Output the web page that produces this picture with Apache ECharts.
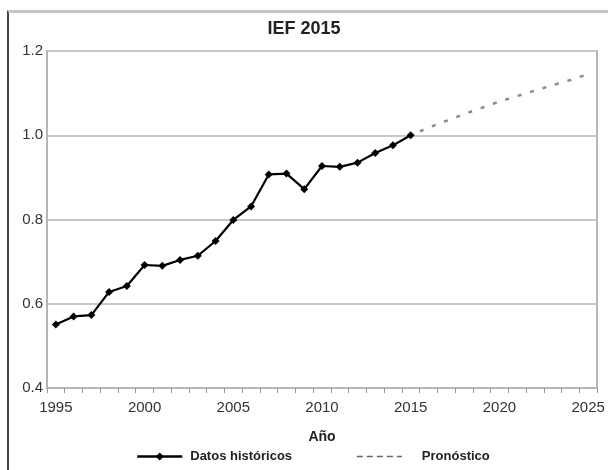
<!DOCTYPE html>
<html>
<head>
<meta charset="utf-8">
<script src="https://cdn.jsdelivr.net/npm/echarts@6/dist/echarts.min.js"></script>
<style>
  html, body { margin: 0; padding: 0; background: #fff; }
  #frame { position: absolute; left: 7px; top: 10px; right: 0; bottom: 0;
           border-left: 2px solid #444; border-top: 3px solid #c4c4c4; }
  #chart { position: absolute; left: 0; top: 0; width: 608px; height: 470px; }
</style>
</head>
<body>
<div id="frame"></div>
<div id="chart"></div>
<script>
const years = ['1995','1996','1997','1998','1999','2000','2001','2002','2003','2004','2005',
               '2006','2007','2008','2009','2010','2011','2012','2013','2014','2015',
               '2016','2017','2018','2019','2020','2021','2022','2023','2024','2025'];
const historicos = [0.551,0.570,0.573,0.628,0.642,0.692,0.690,0.704,0.714,0.749,0.799,
                    0.831,0.907,0.909,0.872,0.927,0.925,0.935,0.958,0.976,1.000];
const pronostico = [1.000,1.018,1.034,1.050,1.065,1.080,1.093,1.106,1.119,1.131,1.145];
const yTicks = { min: 0.4, max: 1.2, interval: 0.2 };

const histData = years.map((y, i) => i < historicos.length ? historicos[i] : null);
const startF = years.indexOf('2015');
const foreData = years.map((y, i) => (i >= startF && i - startF < pronostico.length) ? pronostico[i - startF] : null);

const FONT = "'Liberation Sans', Arial, Helvetica, sans-serif";
const chart = echarts.init(document.getElementById('chart'));
chart.setOption({
  backgroundColor: 'transparent',
  animation: false,
  title: {
    text: 'IEF 2015', left: 'center', top: 20, padding: 0,
    textStyle: { fontFamily: FONT, fontSize: 18, fontWeight: 'bold', color: '#222' }
  },
  grid: { left: 47, right: 11, top: 51, bottom: 82, show: true,
          borderColor: '#b5b5b5', borderWidth: 2, backgroundColor: 'transparent' },
  xAxis: {
    type: 'category', data: years, boundaryGap: true,
    name: 'Año', nameLocation: 'middle', nameGap: 42,
    nameTextStyle: { fontFamily: FONT, fontSize: 14, fontWeight: 'bold', color: '#222' },
    axisLine: { show: true, lineStyle: { color: '#b5b5b5', width: 2 } },
    axisTick: { show: true, interval: 0, length: 5, lineStyle: { color: '#999', width: 1 } },
    axisLabel: { interval: 4, margin: 12, fontFamily: FONT, fontSize: 15, color: '#333' },
    splitLine: { show: false }
  },
  yAxis: {
    type: 'value', min: yTicks.min, max: yTicks.max, interval: yTicks.interval,
    axisLine: { show: true, lineStyle: { color: '#b5b5b5', width: 2 } },
    axisTick: { show: false },
    axisLabel: { margin: 4, fontFamily: FONT, fontSize: 15, color: '#333',
                 formatter: v => v.toFixed(1) },
    splitLine: { lineStyle: { color: '#c8c8c8', width: 2 } }
  },
  legend: {
    left: 131, top: 445, itemWidth: 45, itemHeight: 10, itemGap: 64,
    textStyle: { fontFamily: FONT, fontSize: 13, fontWeight: 'bold', color: '#222', padding: [0,0,0,3] },
    data: [
      { name: 'Datos históricos', lineStyle: { width: 2.5 } },
      { name: 'Pronóstico', itemStyle: { opacity: 0 },
        lineStyle: { type: [6, 4], width: 1.5, color: '#666' },
        textStyle: { padding: [0,0,0,15] } }
    ]
  },
  series: [
    { name: 'Datos históricos', type: 'line', data: histData,
      symbol: 'diamond', symbolSize: 8, showSymbol: true,
      itemStyle: { color: '#000' },
      lineStyle: { color: '#000', width: 2.2 }, z: 3 },
    { name: 'Pronóstico', type: 'line', data: foreData,
      symbol: 'none', itemStyle: { color: '#8a8a8a' },
      lineStyle: { color: '#8a8a8a', width: 2.5, type: [4, 9], dashOffset: -10 }, z: 2 }
  ]
});
</script>
</body>
</html>
